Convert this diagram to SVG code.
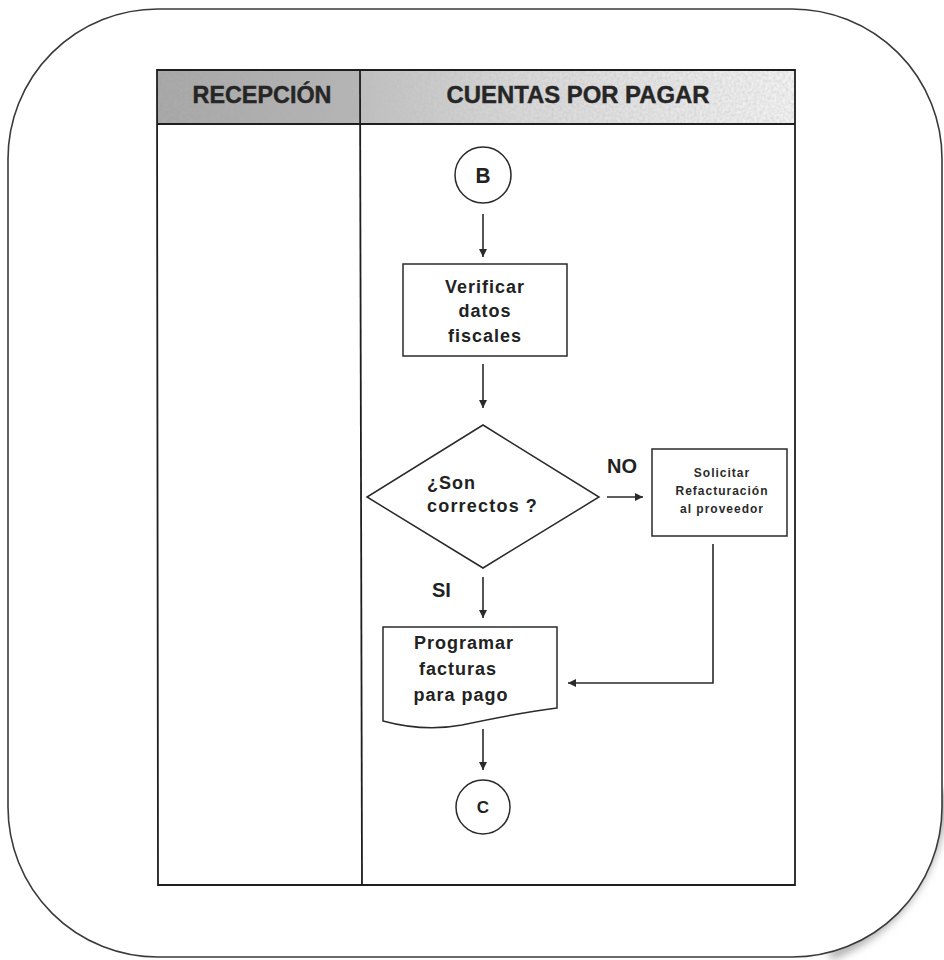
<svg xmlns="http://www.w3.org/2000/svg" width="944" height="960" viewBox="0 0 944 960">
  <defs>
    <style>
      .frame { fill: #ffffff; stroke: #3a3a3a; stroke-width: 1.6; }
      .grid { fill: none; stroke: #1e1e1e; stroke-width: 1.8; }
      .shape { fill: #ffffff; stroke: #2a2a2a; stroke-width: 1.5; }
      .edge { fill: none; stroke: #2a2a2a; stroke-width: 1.6; }
      .head { font-family: "Liberation Sans", Arial, sans-serif; font-weight: bold; font-size: 23px; fill: #262626; text-anchor: middle; stroke: #262626; stroke-width: 0.4; }
      .lbl { font-family: "Liberation Sans", Arial, sans-serif; font-weight: bold; font-size: 18px; fill: #222222; letter-spacing: 1px; }
      .mid { text-anchor: middle; }
      .small { font-family: "Liberation Sans", Arial, sans-serif; font-weight: bold; font-size: 12px; fill: #2a2a2a; text-anchor: middle; letter-spacing: 1px; }
      .tag { font-family: "Liberation Sans", Arial, sans-serif; font-weight: bold; font-size: 20px; fill: #222222; }
      .conn { font-family: "Liberation Sans", Arial, sans-serif; font-weight: bold; fill: #222222; text-anchor: middle; }
    </style>
    <marker id="arrow" viewBox="0 0 10 10" refX="10" refY="5" markerWidth="8" markerHeight="8" markerUnits="userSpaceOnUse" orient="auto">
      <path d="M0,0 L10,5 L0,10 Z" fill="#2a2a2a"/>
    </marker>
    <linearGradient id="hdrFill" x1="0" y1="0" x2="1" y2="0">
      <stop offset="0" stop-color="#a9a9a9"/>
      <stop offset="0.3" stop-color="#bdbdbd"/>
      <stop offset="0.55" stop-color="#d6d6d6"/>
      <stop offset="1" stop-color="#f2f2f2"/>
    </linearGradient>
    <filter id="grain" x="0" y="0" width="100%" height="100%">
      <feTurbulence type="fractalNoise" baseFrequency="0.35" numOctaves="2" seed="4" result="n"/>
      <feColorMatrix in="n" type="matrix" values="0 0 0 0 0.5  0 0 0 0 0.5  0 0 0 0 0.5  0 0 0 -1.6 1.1" result="g"/>
      <feComposite in="g" in2="SourceGraphic" operator="in"/>
    </filter>
    <filter id="soft" x="-20%" y="-20%" width="140%" height="140%">
      <feGaussianBlur stdDeviation="4"/>
    </filter>
  </defs>

  <!-- page frame with a soft shadow at the lower right -->
  <path d="M830,955 Q930,915 946,790" fill="none" stroke="#a8a8a8" stroke-width="10" filter="url(#soft)"/>
  <rect class="frame" x="8" y="9" width="934" height="948" rx="150" ry="150"/>

  <!-- swimlane table -->
  <g id="lanes">
    <rect x="157" y="70" width="638" height="54" fill="url(#hdrFill)"/>
    <rect x="157" y="70" width="638" height="54" fill="#ffffff" filter="url(#grain)" opacity="0.45"/>
    <rect x="157" y="70" width="203" height="54" fill="#9a9a9a" opacity="0.25"/>
    <path class="grid" d="M157,70 H795 V885 H158 Z"/>
    <line class="grid" x1="157" y1="124" x2="795" y2="124"/>
    <line class="grid" x1="360" y1="70" x2="362" y2="885"/>
    <text class="head" x="262" y="103" textLength="139" lengthAdjust="spacingAndGlyphs">RECEPCIÓN</text>
    <text class="head" x="578" y="103" textLength="263" lengthAdjust="spacingAndGlyphs">CUENTAS POR PAGAR</text>
  </g>

  <!-- nodes -->
  <g id="startB">
    <circle class="shape" cx="483" cy="175" r="28"/>
    <text class="conn" x="483" y="183" font-size="22" textLength="15" lengthAdjust="spacingAndGlyphs">B</text>
  </g>

  <g id="verificar">
    <rect class="shape" x="403" y="264" width="164" height="92"/>
    <text class="lbl mid" x="485" y="293">Verificar</text>
    <text class="lbl mid" x="485" y="317">datos</text>
    <text class="lbl mid" x="485" y="342">fiscales</text>
  </g>

  <g id="decision">
    <polygon class="shape" points="483,425 599,497 483,568 367,497"/>
    <text class="lbl" x="427" y="489">¿Son</text>
    <text class="lbl" x="427" y="512" style="letter-spacing:1.2px">correctos<tspan dx="6">?</tspan></text>
  </g>

  <g id="solicitar">
    <rect class="shape" x="652" y="449" width="135" height="87"/>
    <text class="small" x="722" y="477">Solicitar</text>
    <text class="small" x="722" y="495">Refacturación</text>
    <text class="small" x="722" y="513">al proveedor</text>
  </g>

  <g id="programar">
    <path class="shape" d="M383,627 H557 V708 C525,712 495,718 462,725 C430,731 405,727 383,721 Z"/>
    <text class="lbl mid" x="464" y="649">Programar</text>
    <text class="lbl mid" x="458" y="675">facturas</text>
    <text class="lbl mid" x="461" y="701">para pago</text>
  </g>

  <g id="endC">
    <circle class="shape" cx="483" cy="807" r="27"/>
    <text class="conn" x="483" y="813" font-size="17">C</text>
  </g>

  <!-- connectors -->
  <g id="connectors">
    <line class="edge" x1="483" y1="214" x2="483" y2="257" marker-end="url(#arrow)"/>
    <line class="edge" x1="483" y1="364" x2="483" y2="408" marker-end="url(#arrow)"/>
    <line class="edge" x1="607" y1="497" x2="643" y2="497" marker-end="url(#arrow)"/>
    <line class="edge" x1="483" y1="577" x2="483" y2="618" marker-end="url(#arrow)"/>
    <polyline class="edge" points="713,544 713,683 568,683" marker-end="url(#arrow)"/>
    <line class="edge" x1="483" y1="729" x2="483" y2="770" marker-end="url(#arrow)"/>
    <text class="tag" x="607" y="473">NO</text>
    <text class="tag" x="432" y="597">SI</text>
  </g>
</svg>
